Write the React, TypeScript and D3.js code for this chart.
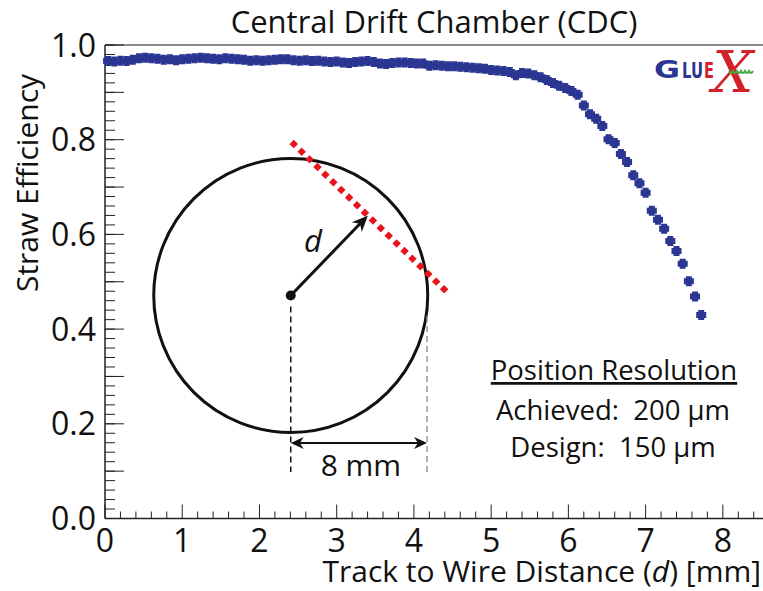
import React from 'react';
import * as d3 from 'd3';

// track-to-wire distance bin centres [mm]
const distance = [
  0.04, 0.12, 0.20, 0.28, 0.36, 0.44, 0.52, 0.60, 0.68, 0.76,
  0.84, 0.92, 1.00, 1.08, 1.16, 1.24, 1.32, 1.40, 1.48, 1.56,
  1.64, 1.72, 1.80, 1.88, 1.96, 2.04, 2.12, 2.20, 2.28, 2.36,
  2.44, 2.52, 2.60, 2.68, 2.76, 2.84, 2.92, 3.00, 3.08, 3.16,
  3.24, 3.32, 3.40, 3.48, 3.56, 3.64, 3.72, 3.80, 3.88, 3.96,
  4.04, 4.12, 4.20, 4.28, 4.36, 4.44, 4.52, 4.60, 4.68, 4.76,
  4.84, 4.92, 5.00, 5.08, 5.16, 5.24, 5.32, 5.40, 5.48, 5.56,
  5.64, 5.72, 5.80, 5.88, 5.96, 6.04, 6.12, 6.20, 6.28, 6.36,
  6.44, 6.52, 6.60, 6.68, 6.76, 6.84, 6.92, 7.00, 7.08, 7.16,
  7.24, 7.32, 7.40, 7.48, 7.56, 7.64, 7.72
];

// straw efficiency per bin
const efficiency = [
  0.966, 0.965, 0.967, 0.966, 0.969, 0.972, 0.973, 0.972, 0.971, 0.969,
  0.970, 0.968, 0.970, 0.971, 0.972, 0.973, 0.972, 0.971, 0.970, 0.972,
  0.971, 0.970, 0.969, 0.967, 0.968, 0.967, 0.968, 0.969, 0.970, 0.970,
  0.968, 0.967, 0.968, 0.966, 0.967, 0.965, 0.964, 0.965, 0.963, 0.962,
  0.964, 0.965, 0.966, 0.964, 0.961, 0.960, 0.962, 0.963, 0.963, 0.962,
  0.961, 0.961, 0.956, 0.957, 0.956, 0.955, 0.955, 0.954, 0.953, 0.952,
  0.951, 0.950, 0.947, 0.946, 0.945, 0.943, 0.936, 0.941, 0.940, 0.936,
  0.932, 0.926, 0.920, 0.914, 0.909, 0.903, 0.895, 0.872, 0.854, 0.844,
  0.829, 0.801, 0.793, 0.770, 0.753, 0.725, 0.708, 0.688, 0.650, 0.631,
  0.612, 0.586, 0.565, 0.538, 0.501, 0.469, 0.430
];

const xTickLabels = ['0', '1', '2', '3', '4', '5', '6', '7', '8'];
const yTickLabels = ['0.0', '0.2', '0.4', '0.6', '0.8', '1.0'];
const resolutionLines = ['Achieved:\u00a0 200 \u00b5m', 'Design:\u00a0 150 \u00b5m'];

const W = 763;
const H = 591;
const FONT = '"Open Sans", sans-serif';
const BLUE = '#2b3592';
const RED = '#e8141c';

// stealth arrow head at (tx,ty) pointing along (ux,uy)
function arrowHead(tx, ty, ux, uy, len, half) {
  const nx = -uy, ny = ux;
  const bx = tx - ux * len, by = ty - uy * len;
  const mx = tx - ux * len * 0.7, my = ty - uy * len * 0.7;
  return `M${tx},${ty}L${bx + nx * half},${by + ny * half}L${mx},${my}L${bx - nx * half},${by - ny * half}Z`;
}

export default function App() {
  const x = d3.scaleLinear().domain([0, 8.52]).range([105, W]);
  const y = d3.scaleLinear().domain([0, 1]).range([518.5, 45]);

  const xMinor = d3.range(0, 8.5, 0.2).map(v => +v.toFixed(1));
  const yMinor = d3.range(0, 1.001, 0.02).map(v => +v.toFixed(2));
  const yMid = d3.range(0, 1.001, 0.1).map(v => +v.toFixed(1));

  const s = 10, a = 6, h = (s - a) / 2;
  const marker = `M${-a / 2},${-s / 2}h${a}v${h}h${h}v${a}h${-h}v${h}h${-a}v${-h}h${-h}v${-a}h${h}z`;

  // inset: straw cross-section, wire at the centre
  const cx = x(2.405), cy = y(0.471), r = 137;
  const ang = -46 * Math.PI / 180;
  const ux = Math.cos(ang), uy = Math.sin(ang);
  const tipX = cx + ux * 111, tipY = cy + uy * 111;
  const tx = -uy, ty = ux; // tangent direction
  const edgeX = x(4.17);
  const dimY = 443;

  return (
    <svg width={W} height={H} style={{ position: 'absolute', left: 0, top: 0, background: '#fff' }} fontFamily={FONT}>
      {/* title */}
      <text x={434} y={33} fontSize={31} textAnchor="middle" fill="#111">Central Drift Chamber (CDC)</text>

      {/* frame */}
      <line x1={x(0)} x2={W} y1={y(1)} y2={y(1)} stroke="#666" strokeWidth={1.5} />
      <line x1={x(0)} x2={x(0)} y1={y(1)} y2={y(0)} stroke="#222" strokeWidth={1.5} />
      <line x1={x(0)} x2={W} y1={y(0)} y2={y(0)} stroke="#222" strokeWidth={1.5} />

      {/* x ticks */}
      {xMinor.map(v => {
        const major = Math.abs(v - Math.round(v)) < 1e-6;
        return <line key={'xm' + v} x1={x(v)} x2={x(v)} y1={y(0)} y2={y(0) - (major ? 14 : 7)} stroke="#222" strokeWidth={1} />;
      })}
      {xTickLabels.map(t => (
        <text key={'xl' + t} x={x(+t)} y={552} fontSize={32} textAnchor="middle" fill="#111">{t}</text>
      ))}

      {/* y ticks */}
      {yMinor.map(v => (
        <line key={'ym' + v} x1={x(0)} x2={x(0) + 10} y1={y(v)} y2={y(v)} stroke="#222" strokeWidth={1} />
      ))}
      {yMid.map(v => (
        <line key={'yt' + v} x1={x(0)} x2={x(0) + 19} y1={y(v)} y2={y(v)} stroke="#222" strokeWidth={1} />
      ))}
      {yTickLabels.map(t => (
        <text key={'yl' + t} x={96} y={y(+t)} dy="0.36em" fontSize={32} textAnchor="end" fill="#111">{t}</text>
      ))}

      {/* axis titles */}
      <text x={761} y={582} fontSize={30} textAnchor="end" fill="#111">
        Track to Wire Distance (<tspan fontStyle="italic">d</tspan>) [mm]
      </text>
      <text transform="translate(38,183) rotate(-90)" fontSize={30} textAnchor="middle" fill="#111">Straw Efficiency</text>

      {/* inset diagram */}
      <circle cx={cx} cy={cy} r={r} fill="none" stroke="#111" strokeWidth={3} />
      <line x1={cx} x2={cx} y1={cy + 11} y2={472} stroke="#111" strokeWidth={1.5} strokeDasharray="6 4" />
      <line x1={edgeX} x2={edgeX} y1={316} y2={472} stroke="#999" strokeWidth={1.5} strokeDasharray="6 4" />
      <line x1={cx} y1={cy} x2={tipX - ux * 10} y2={tipY - uy * 10} stroke="#111" strokeWidth={3} />
      <path d={arrowHead(tipX, tipY, ux, uy, 16, 7)} fill="#111" />
      <circle cx={cx} cy={cy} r={5} fill="#111" />
      <line x1={tipX - tx * 106} y1={tipY - ty * 106} x2={tipX + tx * 113} y2={tipY + ty * 113}
        stroke={RED} strokeWidth={6} strokeDasharray="6 5" />
      <text x={313} y={252} fontSize={31} fontStyle="italic" textAnchor="middle" fill="#111">d</text>
      <line x1={cx + 8} x2={edgeX - 8} y1={dimY} y2={dimY} stroke="#111" strokeWidth={2} />
      <path d={arrowHead(cx, dimY, -1, 0, 13, 6)} fill="#111" />
      <path d={arrowHead(edgeX, dimY, 1, 0, 13, 6)} fill="#111" />
      <text x={(cx + edgeX) / 2 + 2} y={476} fontSize={30} textAnchor="middle" fill="#111">8 mm</text>

      {/* data */}
      <g fill={BLUE}>
        {distance.map((d, i) => (
          <path key={i} d={marker} transform={`translate(${x(d)},${y(efficiency[i])})`} />
        ))}
      </g>

      {/* resolution box */}
      <text x={614} y={380} fontSize={27.5} textAnchor="middle" fill="#111" textDecoration="underline">Position Resolution</text>
      {resolutionLines.map((t, i) => (
        <text key={t} x={613} y={420 + i * 37} fontSize={27.5} textAnchor="middle" fill="#111">{t}</text>
      ))}

      {/* GlueX logo */}
      <g>
        <text x={733} y={92} fontSize={58} fontStyle="italic" fontFamily='"DejaVu Serif", serif' textAnchor="middle" fill="#d4202a">X</text>
        <text x={654} y={78} fontSize={25} fontWeight="bold" fontFamily='"DejaVu Sans", sans-serif' fill={BLUE} textLength={26} lengthAdjust="spacingAndGlyphs">G</text>
        <text x={682} y={78} fontSize={21} fontWeight="bold" fontFamily='"DejaVu Sans", sans-serif' fill={BLUE} textLength={21} lengthAdjust="spacingAndGlyphs">LU</text>
        <text x={704} y={78} fontSize={21} fontWeight="bold" fontFamily='"DejaVu Sans", sans-serif' fill="#d4202a" textLength={10} lengthAdjust="spacingAndGlyphs">E</text>
        <path d="M729,71 q2,4 4,0 q2,4 4,0 q2,4 4,0 q2,4 4,0 q2,4 4,0 q2,4 4,0" fill="none" stroke="#4aa844" strokeWidth={2} />
      </g>
    </svg>
  );
}
